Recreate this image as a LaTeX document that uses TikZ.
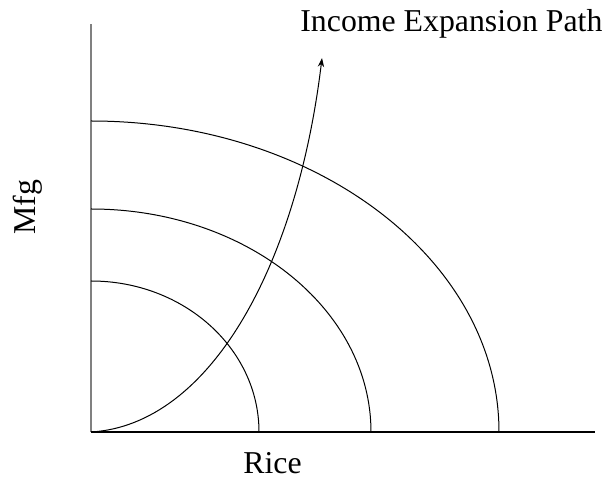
\documentclass[tikz,border=0pt]{standalone}
\usepackage{fontspec}
\setmainfont{Liberation Serif}
\usetikzlibrary{arrows.meta}
\begin{document}
\begin{tikzpicture}[x=0.5pt,y=0.5pt,
  axisx/.style={line width=0.75pt,black},
  axisy/.style={line width=0.75pt,black!50},
  curve/.style={line width=0.5pt,black},
  lbl/.style={inner sep=0pt,font=\fontsize{15.9}{19}\selectfont}]
\useasboundingbox (0,0) rectangle (606,498);
\coordinate (O) at (91,66);
\coordinate (ytop) at (91,474);
\coordinate (xend) at (595,66);
\coordinate (tip) at (322,440);
\draw[axisy] (O) -- (ytop);
\draw[axisx] (O) -- (xend);
\draw[curve] (91,217) arc[start angle=90,end angle=0,x radius=168,y radius=151];
\draw[curve] (91,289) arc[start angle=90,end angle=0,x radius=280,y radius=223];
\draw[curve] (91,377) arc[start angle=90,end angle=0,x radius=408,y radius=311];
\draw[curve,-{Stealth[length=4.5pt,width=3.2pt]}] (O) .. controls (210,73) and (297,232) .. (tip);
\node[lbl,anchor=base west] (iep) at (300,466) {Income Expansion Path};
\node[lbl,anchor=base west] (rice) at (243,24) {Rice};
\node[lbl,anchor=base west] (mfg) at (35,263) [rotate=90] {Mfg};
\end{tikzpicture}
\end{document}
